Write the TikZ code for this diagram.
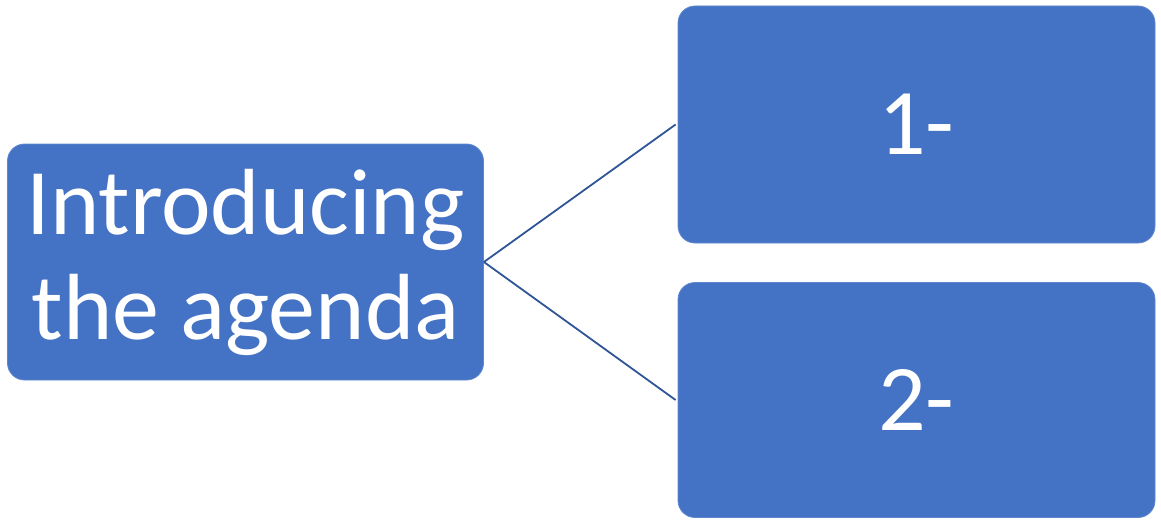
\documentclass[tikz,border=0pt]{standalone}
\usepackage{fontspec}
\setmainfont{Carlito}
\definecolor{boxblue}{HTML}{4472C4}
\definecolor{linkblue}{HTML}{2F5597}
\begin{document}
\begin{tikzpicture}[x=1pt,y=-1pt,
  block/.style={draw=boxblue!85!white, line width=0.8pt, fill=boxblue, rounded corners=17pt,
    text=white, align=center, inner sep=0pt,
    font=\fontsize{94}{105}\selectfont},
  link/.style={draw=linkblue, line width=1.8pt}]
  \useasboundingbox (0,0) rectangle (1161,519);
  \node[block, minimum width=476pt, minimum height=236pt] (intro) at (245.5,262) {Introducing\\the agenda};
  \node[block, minimum width=477pt, minimum height=237pt] (one) at (916.5,124.5) {1-};
  \node[block, minimum width=477pt, minimum height=235pt] (two) at (916.5,400) {2-};
  \coordinate (hub) at (intro.east);
  \draw[link] (hub) -- ([xshift=-2pt]one.west);
  \draw[link] (hub) -- ([xshift=-2pt]two.west);
\end{tikzpicture}
\end{document}
